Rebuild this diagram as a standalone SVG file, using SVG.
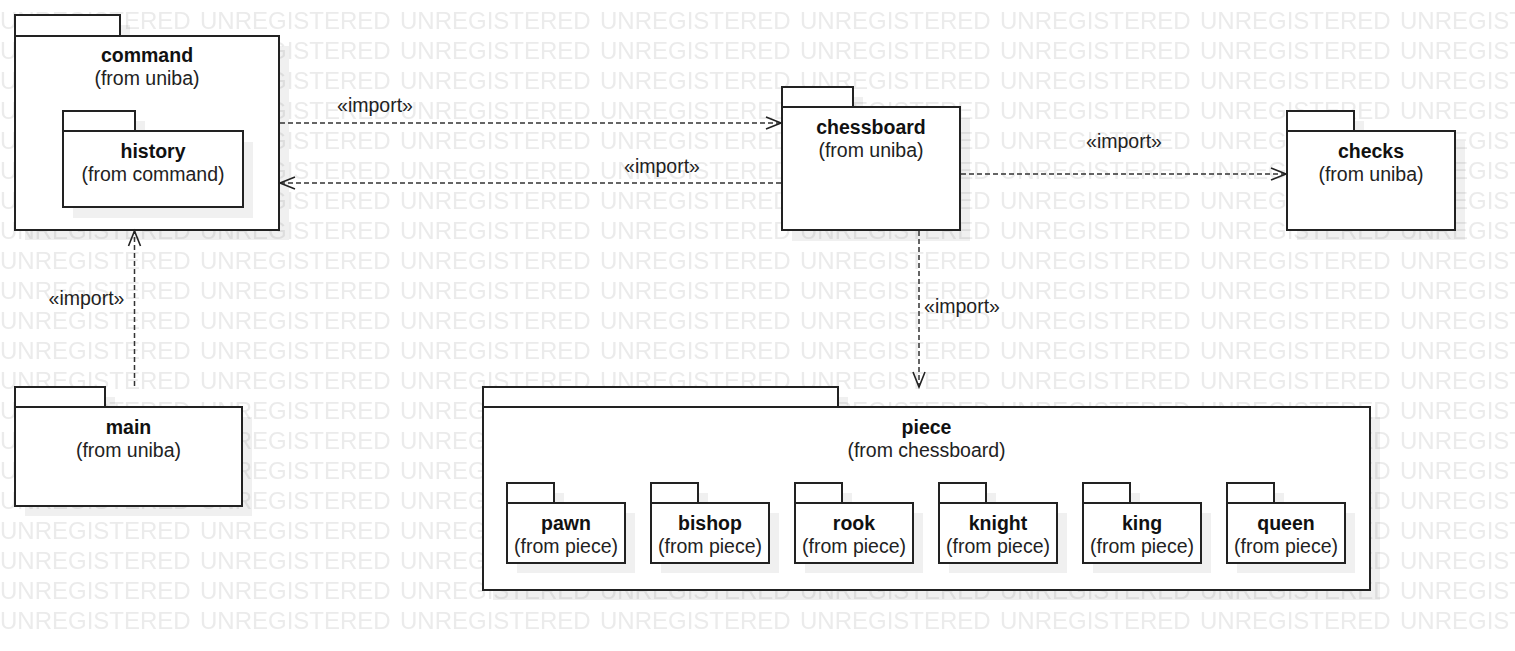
<svg xmlns="http://www.w3.org/2000/svg" width="1515" height="651" viewBox="0 0 1515 651">
<style>
.box{fill:#fff;stroke:#222;stroke-width:2}
.sh{fill:#000;fill-opacity:0.06}
.name{font-family:"Liberation Sans",Arial,sans-serif;font-size:19.5px;font-weight:bold;text-anchor:middle;fill:#111}
.from{font-family:"Liberation Sans",Arial,sans-serif;font-size:19.5px;text-anchor:middle;fill:#222}
.lbl{font-family:"Liberation Sans",Arial,sans-serif;font-size:19.5px;text-anchor:middle;fill:#222}
.dep{fill:none;stroke:#333;stroke-width:1.5;stroke-dasharray:5 3}
.wm{font-family:"Liberation Sans",Arial,sans-serif;font-size:24px;fill:#ebebeb}
</style>
<defs>
<pattern id="wmp" x="0" y="5" width="200" height="30" patternUnits="userSpaceOnUse">
<text class="wm" x="0" y="24">UNREGISTERED</text>
</pattern>
<marker id="open" markerUnits="userSpaceOnUse" markerWidth="18" markerHeight="16" refX="15" refY="7" orient="auto" overflow="visible">
<path d="M0,1 L15,7 L0,13" fill="none" stroke="#222" stroke-width="1.6" stroke-dasharray="none"/>
</marker>
</defs>
<rect width="1515" height="651" fill="#fff"/>
<rect id="watermark" width="1515" height="635" fill="url(#wmp)"/>

<g id="command">
<path class="sh" d="M25,25h105v21h159v194h-264z"/>
<rect class="box" x="15" y="15" width="105" height="21"/>
<rect class="box" x="15" y="36" width="264" height="194"/>
<text class="name" x="147" y="62">command</text>
<text class="from" x="147" y="85">(from uniba)</text>
<g id="history">
<path class="sh" d="M73,121h72v21h108v76h-180z"/>
<rect class="box" x="63" y="111" width="72" height="20"/>
<rect class="box" x="63" y="131" width="180" height="76"/>
<text class="name" x="153" y="158">history</text>
<text class="from" x="153" y="181">(from command)</text>
</g>
</g>

<g id="chessboard">
<path class="sh" d="M792,97h71v21h107v123h-178z"/>
<rect class="box" x="782" y="87" width="71" height="20"/>
<rect class="box" x="782" y="107" width="178" height="123"/>
<text class="name" x="871" y="134">chessboard</text>
<text class="from" x="871" y="157">(from uniba)</text>
</g>

<g id="checks">
<path class="sh" d="M1297,121h67v20h101v99h-168z"/>
<rect class="box" x="1287" y="111" width="67" height="20"/>
<rect class="box" x="1287" y="131" width="168" height="99"/>
<text class="name" x="1371" y="158">checks</text>
<text class="from" x="1371" y="181">(from uniba)</text>
</g>

<g id="main">
<path class="sh" d="M25,397h90v20h137v99h-227z"/>
<rect class="box" x="15" y="387" width="90" height="20"/>
<rect class="box" x="15" y="407" width="227" height="99"/>
<text class="name" x="128.5" y="434">main</text>
<text class="from" x="128.5" y="457">(from uniba)</text>
</g>

<g id="piece">
<path class="sh" d="M493,397h355v20h532v183h-887z"/>
<rect class="box" x="483" y="387" width="355" height="20"/>
<rect class="box" x="483" y="407" width="887" height="183"/>
<text class="name" x="926.5" y="434">piece</text>
<text class="from" x="926.5" y="457">(from chessboard)</text>

<g id="pawn">
<path class="sh" d="M517,493h47v20h71v60h-118z"/>
<rect class="box" x="507" y="483" width="47" height="20"/>
<rect class="box" x="507" y="503" width="118" height="60"/>
<text class="name" x="566" y="530">pawn</text>
<text class="from" x="566" y="553">(from piece)</text>
</g>
<g id="bishop">
<path class="sh" d="M661,493h47v20h71v60h-118z"/>
<rect class="box" x="651" y="483" width="47" height="20"/>
<rect class="box" x="651" y="503" width="118" height="60"/>
<text class="name" x="710" y="530">bishop</text>
<text class="from" x="710" y="553">(from piece)</text>
</g>
<g id="rook">
<path class="sh" d="M805,493h47v20h71v60h-118z"/>
<rect class="box" x="795" y="483" width="47" height="20"/>
<rect class="box" x="795" y="503" width="118" height="60"/>
<text class="name" x="854" y="530">rook</text>
<text class="from" x="854" y="553">(from piece)</text>
</g>
<g id="knight">
<path class="sh" d="M949,493h47v20h71v60h-118z"/>
<rect class="box" x="939" y="483" width="47" height="20"/>
<rect class="box" x="939" y="503" width="118" height="60"/>
<text class="name" x="998" y="530">knight</text>
<text class="from" x="998" y="553">(from piece)</text>
</g>
<g id="king">
<path class="sh" d="M1093,493h47v20h71v60h-118z"/>
<rect class="box" x="1083" y="483" width="47" height="20"/>
<rect class="box" x="1083" y="503" width="118" height="60"/>
<text class="name" x="1142" y="530">king</text>
<text class="from" x="1142" y="553">(from piece)</text>
</g>
<g id="queen">
<path class="sh" d="M1237,493h47v20h71v60h-118z"/>
<rect class="box" x="1227" y="483" width="47" height="20"/>
<rect class="box" x="1227" y="503" width="118" height="60"/>
<text class="name" x="1286" y="530">queen</text>
<text class="from" x="1286" y="553">(from piece)</text>
</g>
</g>

<g id="connectors">
<path class="dep" d="M280,123H781" marker-end="url(#open)"/>
<text class="lbl" x="375" y="112">«import»</text>
<path class="dep" d="M781,183H280" marker-end="url(#open)"/>
<text class="lbl" x="662" y="173">«import»</text>
<path class="dep" d="M961,174H1286" marker-end="url(#open)"/>
<text class="lbl" x="1124" y="148">«import»</text>
<path class="dep" d="M919,231V387" marker-end="url(#open)"/>
<text class="lbl" x="962" y="313">«import»</text>
<path class="dep" d="M134.5,386V231" marker-end="url(#open)"/>
<text class="lbl" x="86.5" y="305">«import»</text>
</g>
</svg>
